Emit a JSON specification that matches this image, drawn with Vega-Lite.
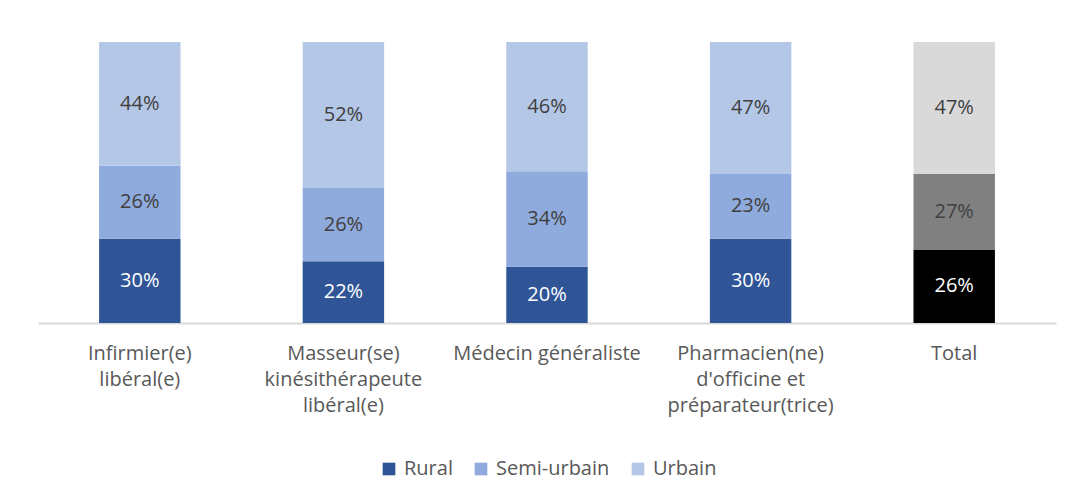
{
  "$schema": "https://vega.github.io/schema/vega-lite/v6.json",
  "width": 1018,
  "height": 281,
  "autosize": {"type": "none"},
  "padding": {"left": 38, "top": 42, "right": 17, "bottom": 174},
  "background": "white",
  "config": {
    "view": {"stroke": null},
    "font": "Open Sans",
    "text": {"font": "Open Sans"}
  },
  "data": {
    "values": [
      {"cat": "Infirmier(e)|libéral(e)", "serie": "Rural", "key": "Rural", "ord": 1, "value": 0.30},
      {"cat": "Infirmier(e)|libéral(e)", "serie": "Semi-urbain", "key": "Semi-urbain", "ord": 2, "value": 0.26},
      {"cat": "Infirmier(e)|libéral(e)", "serie": "Urbain", "key": "Urbain", "ord": 3, "value": 0.44},
      {"cat": "Masseur(se)|kinésithérapeute|libéral(e)", "serie": "Rural", "key": "Rural", "ord": 1, "value": 0.22},
      {"cat": "Masseur(se)|kinésithérapeute|libéral(e)", "serie": "Semi-urbain", "key": "Semi-urbain", "ord": 2, "value": 0.26},
      {"cat": "Masseur(se)|kinésithérapeute|libéral(e)", "serie": "Urbain", "key": "Urbain", "ord": 3, "value": 0.52},
      {"cat": "Médecin généraliste", "serie": "Rural", "key": "Rural", "ord": 1, "value": 0.20},
      {"cat": "Médecin généraliste", "serie": "Semi-urbain", "key": "Semi-urbain", "ord": 2, "value": 0.34},
      {"cat": "Médecin généraliste", "serie": "Urbain", "key": "Urbain", "ord": 3, "value": 0.46},
      {"cat": "Pharmacien(ne)|d'officine et|préparateur(trice)", "serie": "Rural", "key": "Rural", "ord": 1, "value": 0.30},
      {"cat": "Pharmacien(ne)|d'officine et|préparateur(trice)", "serie": "Semi-urbain", "key": "Semi-urbain", "ord": 2, "value": 0.23},
      {"cat": "Pharmacien(ne)|d'officine et|préparateur(trice)", "serie": "Urbain", "key": "Urbain", "ord": 3, "value": 0.47},
      {"cat": "Total", "serie": "Rural", "key": "Total Rural", "ord": 1, "value": 0.26},
      {"cat": "Total", "serie": "Semi-urbain", "key": "Total Semi-urbain", "ord": 2, "value": 0.27},
      {"cat": "Total", "serie": "Urbain", "key": "Total Urbain", "ord": 3, "value": 0.47}
    ]
  },
  "encoding": {
    "x": {
      "field": "cat",
      "type": "nominal",
      "sort": null,
      "scale": {"paddingInner": 0.6, "paddingOuter": 0.3},
      "axis": {
        "title": null,
        "labelAngle": 0,
        "labelExpr": "split(datum.label, '|')",
        "labelFont": "Open Sans",
        "labelFontSize": 20,
        "labelColor": "#595959",
        "labelLineHeight": 26,
        "labelPadding": 20,
        "labelBaseline": "top",
        "labelLimit": 400,
        "ticks": false,
        "domainColor": "#D9D9D9",
        "domainWidth": 2,
        "grid": false
      }
    },
    "y": {
      "field": "value",
      "type": "quantitative",
      "stack": "zero",
      "scale": {"domain": [0, 1], "nice": false},
      "axis": null
    },
    "order": {"field": "ord", "type": "quantitative", "sort": "ascending"}
  },
  "layer": [
    {
      "mark": {"type": "bar"},
      "encoding": {
        "color": {
          "field": "key",
          "type": "nominal",
          "scale": {
            "domain": ["Rural", "Semi-urbain", "Urbain", "Total Rural", "Total Semi-urbain", "Total Urbain"],
            "range": ["#2F5597", "#8FAADC", "#B4C7E7", "#000000", "#808080", "#D9D9D9"]
          },
          "legend": {
            "values": ["Rural", "Semi-urbain", "Urbain"],
            "title": null,
            "orient": "none",
            "direction": "horizontal",
            "legendX": 341,
            "legendY": 417,
            "symbolType": "square",
            "symbolSize": 160,
            "symbolStrokeWidth": 0,
            "labelFont": "Open Sans",
            "labelFontSize": 20,
            "labelColor": "#595959",
            "labelOffset": 5,
            "columnPadding": 18,
            "labelLimit": 300
          }
        }
      }
    },
    {
      "mark": {"type": "text", "fontSize": 20, "font": "Open Sans"},
      "encoding": {
        "y": {"field": "value", "type": "quantitative", "stack": "zero", "bandPosition": 0.5},
        "text": {"field": "value", "type": "quantitative", "format": ".0%"},
        "color": {
          "condition": {"test": "datum.serie === 'Rural'", "value": "#FFFFFF"},
          "value": "#404040"
        }
      }
    }
  ]
}
